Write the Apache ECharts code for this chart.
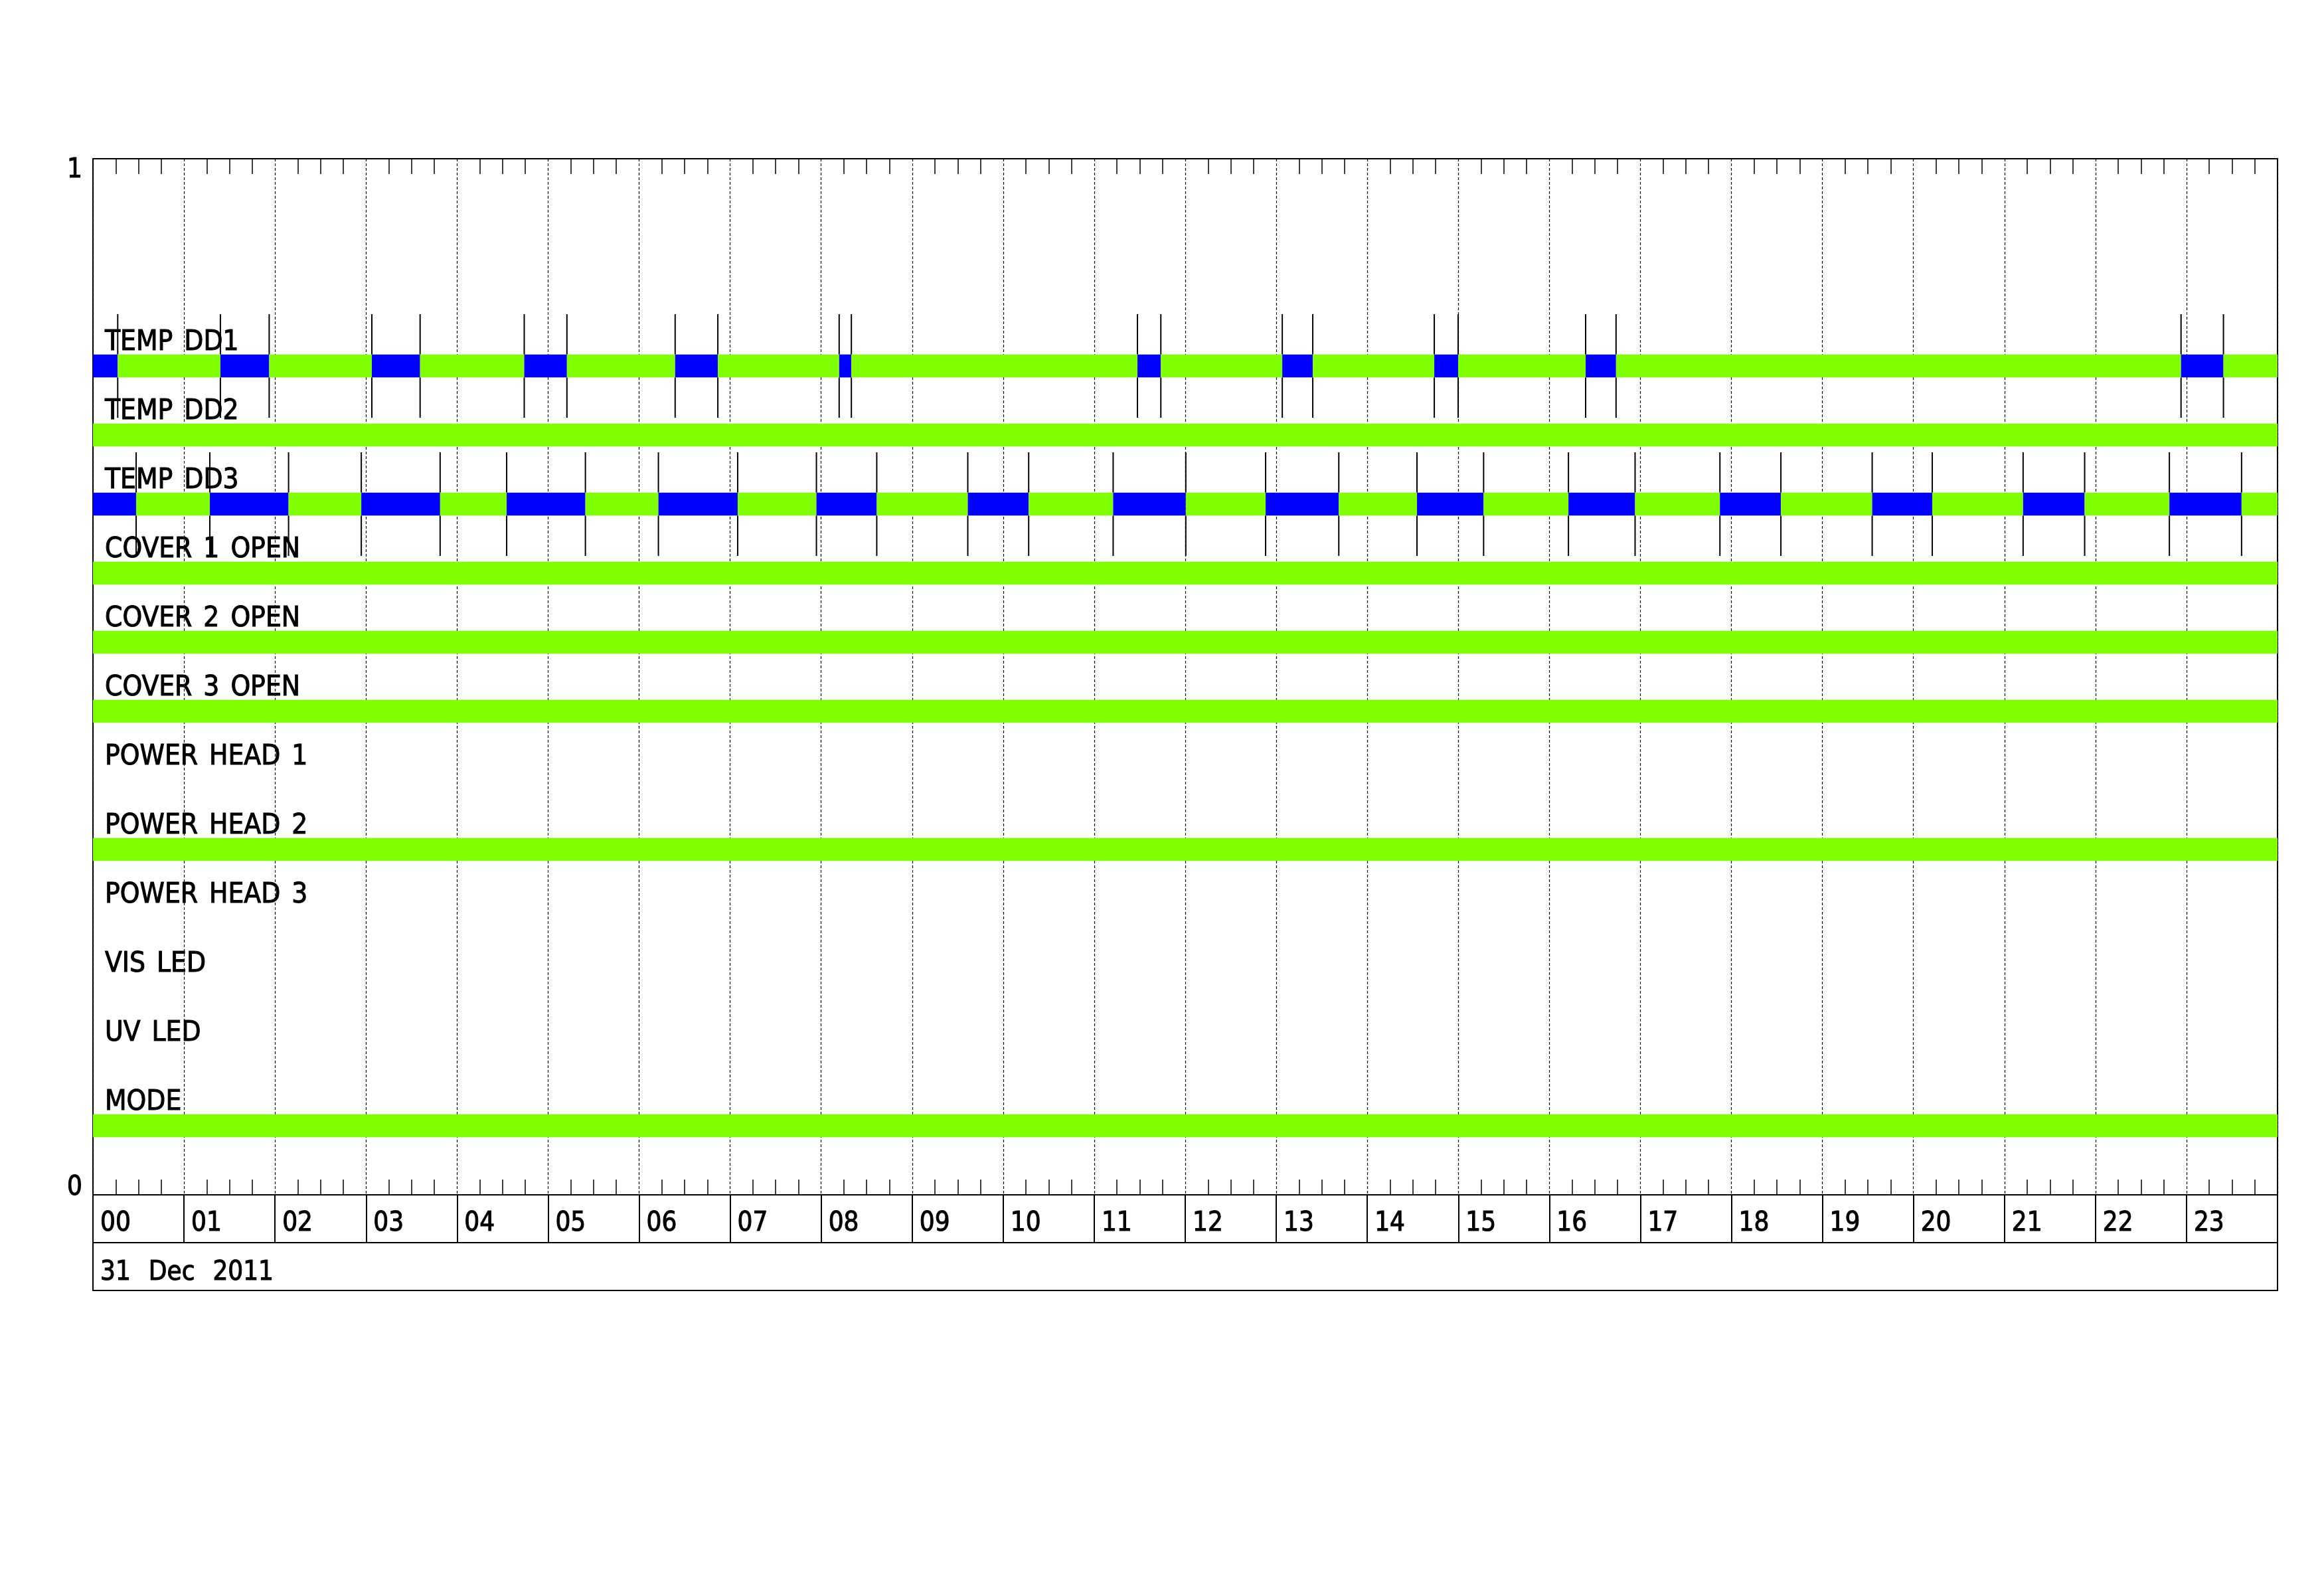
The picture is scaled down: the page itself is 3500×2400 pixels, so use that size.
<!DOCTYPE html>
<html>
<head>
<meta charset="utf-8">
<script src="https://cdn.jsdelivr.net/npm/echarts@6/dist/echarts.min.js"></script>
<style>
html,body{margin:0;padding:0;background:#ffffff;}
#chart{width:3500px;height:2400px;}
</style>
</head>
<body>
<div id="chart"></div>
<script>
// ---------------- data ----------------
const rowNames = ['TEMP DD1', 'TEMP DD2', 'TEMP DD3', 'COVER 1 OPEN', 'COVER 2 OPEN', 'COVER 3 OPEN',
  'POWER HEAD 1', 'POWER HEAD 2', 'POWER HEAD 3', 'VIS LED', 'UV LED', 'MODE'];
const hourLabels = ['00','01','02','03','04','05','06','07','08','09','10','11',
  '12','13','14','15','16','17','18','19','20','21','22','23'];
const yTickLabels = ['0', '1'];
const dateLabel = '31 Dec 2011';

// segments: [start hour, end hour, state]  (G = green, B = blue)
const tempDD1 = [
  [0.000, 0.272, 'B'], [0.272, 1.400, 'G'], [1.400, 1.936, 'B'], [1.936, 3.064, 'G'],
  [3.064, 3.594, 'B'], [3.594, 4.738, 'G'], [4.738, 5.207, 'B'], [5.207, 6.396, 'G'],
  [6.396, 6.865, 'B'], [6.865, 8.198, 'G'], [8.198, 8.332, 'B'], [8.332, 11.475, 'G'],
  [11.475, 11.732, 'B'], [11.732, 13.066, 'G'], [13.066, 13.401, 'B'], [13.401, 14.736, 'G'],
  [14.736, 14.998, 'B'], [14.998, 16.399, 'G'], [16.399, 16.733, 'B'], [16.733, 22.940, 'G'],
  [22.940, 23.406, 'B'], [23.406, 24.000, 'G']
];
const tempDD2 = [[0, 24, 'G']];
const tempDD3 = [
  [0.000, 0.474, 'B'], [0.474, 1.284, 'G'], [1.284, 2.149, 'B'], [2.149, 2.948, 'G'],
  [2.948, 3.814, 'B'], [3.814, 4.545, 'G'], [4.545, 5.410, 'B'], [5.410, 6.212, 'G'],
  [6.212, 7.083, 'B'], [7.083, 7.948, 'G'], [7.948, 8.611, 'B'], [8.611, 9.611, 'G'],
  [9.611, 10.280, 'B'], [10.280, 11.208, 'G'], [11.208, 12.006, 'B'], [12.006, 12.883, 'G'],
  [12.883, 13.687, 'B'], [13.687, 14.546, 'G'], [14.546, 15.278, 'B'], [15.278, 16.210, 'G'],
  [16.210, 16.942, 'B'], [16.942, 17.874, 'G'], [17.874, 18.544, 'B'], [18.544, 19.547, 'G'],
  [19.547, 20.207, 'B'], [20.207, 21.205, 'G'], [21.205, 21.881, 'B'], [21.881, 22.812, 'G'],
  [22.812, 23.605, 'B'], [23.605, 24.000, 'G']
];
const cover1Open = [[0, 24, 'G']];
const cover2Open = [[0, 24, 'G']];
const cover3Open = [[0, 24, 'G']];
const powerHead1 = [];
const powerHead2 = [[0, 24, 'G']];
const powerHead3 = [];
const visLed = [];
const uvLed = [];
const modeRow = [[0, 24, 'G']];

const rowSegments = [tempDD1, tempDD2, tempDD3, cover1Open, cover2Open, cover3Open,
  powerHead1, powerHead2, powerHead3, visLed, uvLed, modeRow];

// ---------------- build ----------------
const stateCodes = ['G', 'B'];
const stateColors = ['#7fff00', '#0000ff'];
const rowSlots = 15;
function rowLevel(i) { return (rowNames.length - i) / rowSlots; }
const BAR_H = 1 / 45;      // bar thickness in axis units
const LINE_HALF = 0.05;    // half length of transition markers in axis units

const barData = [];
const lineData = [];
rowSegments.forEach(function (segs, i) {
  if (segs.length === 0) {
    lineData.push([0, i]);
  }
  segs.forEach(function (s) {
    barData.push([s[0], s[1], i, stateCodes.indexOf(s[2])]);
    lineData.push([s[0], i]);
  });
});
const labelData = rowNames.map(function (n, i) { return [0, i]; });

const FONT = '"DejaVu Sans Condensed", "DejaVu Sans", sans-serif';
function spaced(s) { return s.split(' ').join('{sp| }'); }

function renderBar(params, api) {
  const y = rowLevel(api.value(2));
  const p0 = api.coord([api.value(0), y]);
  const p1 = api.coord([api.value(1), y]);
  const h = api.size([0, BAR_H])[1];
  return {
    type: 'rect',
    shape: { x: p0[0], y: p0[1] - h / 2, width: p1[0] - p0[0], height: h },
    style: { fill: stateColors[api.value(3)] }
  };
}
function renderLine(params, api) {
  const y = rowLevel(api.value(1));
  const p = api.coord([api.value(0), y]);
  const hl = api.size([0, LINE_HALF])[1];
  const hb = api.size([0, BAR_H])[1] / 2;
  const st = { stroke: '#000', lineWidth: 2 };
  return {
    type: 'group',
    children: [
      { type: 'line', shape: { x1: p[0], y1: p[1] - hl, x2: p[0], y2: p[1] - hb }, style: st },
      { type: 'line', shape: { x1: p[0], y1: p[1] + hb, x2: p[0], y2: p[1] + hl }, style: st }
    ]
  };
}
function renderLabel(params, api) {
  const i = api.value(1);
  const p = api.coord([api.value(0), rowLevel(i)]);
  return {
    type: 'text',
    x: p[0] + 18,
    y: p[1] - 35,
    style: {
      text: spaced(rowNames[i]), fill: '#000', fontSize: 42, fontFamily: FONT,
      stroke: '#000', lineWidth: 1,
      align: 'left', verticalAlign: 'middle',
      rich: { sp: { width: 17, fontSize: 42, fontFamily: FONT } }
    }
  };
}

const chart = echarts.init(document.getElementById('chart'), null, { renderer: 'canvas' });

const minorTick = { show: true, splitNumber: 4, length: 23, lineStyle: { color: '#000', width: 1.5 } };

const option = {
  backgroundColor: '#ffffff',
  animation: false,
  grid: [
    { left: 140, right: 70, top: 239, height: 1560, show: true, borderColor: '#000', borderWidth: 2,
      backgroundColor: 'transparent', containLabel: false, outerBoundsMode: 'none' },
    { left: 140, right: 70, top: 1799, height: 72, show: true, borderColor: '#000', borderWidth: 2,
      backgroundColor: 'transparent', containLabel: false, outerBoundsMode: 'none' },
    { left: 140, right: 70, top: 1871, height: 72, show: true, borderColor: '#000', borderWidth: 2,
      backgroundColor: 'transparent', containLabel: false, outerBoundsMode: 'none' }
  ],
  xAxis: [
    { type: 'value', gridIndex: 0, position: 'bottom', min: 0, max: 24, interval: 1,
      axisLine: { show: true, lineStyle: { color: '#000', width: 2 } },
      axisTick: { show: false, inside: true },
      minorTick: minorTick,
      splitLine: { show: true, lineStyle: { color: '#000', width: 1.2, type: [4, 3] } },
      axisLabel: { show: false } },
    { type: 'value', gridIndex: 0, position: 'top', min: 0, max: 24, interval: 1,
      axisLine: { show: true, lineStyle: { color: '#000', width: 2 } },
      axisTick: { show: false, inside: true },
      minorTick: minorTick,
      splitLine: { show: false },
      axisLabel: { show: false } },
    { type: 'value', gridIndex: 1, position: 'top', min: 0, max: 24, interval: 1,
      axisLine: { show: false }, axisTick: { show: false },
      splitLine: { show: true, lineStyle: { color: '#000', width: 2 } },
      axisLabel: { show: true, inside: true, margin: 24, align: 'left', padding: [0, 0, 0, 11],
        color: '#000', fontSize: 40, fontFamily: FONT, textBorderColor: '#000', textBorderWidth: 1,
        formatter: function (v) { return hourLabels[v] !== undefined ? hourLabels[v] : ''; } } },
    { type: 'value', gridIndex: 2, position: 'top', min: 0, max: 24, interval: 24,
      axisLine: { show: false }, axisTick: { show: false }, splitLine: { show: false },
      axisLabel: { show: true, inside: true, margin: 26, align: 'left', padding: [0, 0, 0, 11],
        color: '#000', fontSize: 40, fontFamily: FONT, textBorderColor: '#000', textBorderWidth: 1,
        rich: { sp: { width: 27, fontSize: 40, fontFamily: FONT } },
        formatter: function (v) { return v === 0 ? spaced(dateLabel) : ''; } } }
  ],
  yAxis: [
    { type: 'value', gridIndex: 0, min: 0, max: 1, interval: 1,
      axisLine: { show: false }, axisTick: { show: false }, splitLine: { show: false },
      axisLabel: { show: true, margin: 16, color: '#000', fontSize: 40, fontFamily: FONT,
        formatter: function (v) { return v === 1 ? '{hi|' + yTickLabels[1] + '}' : '{lo|' + yTickLabels[0] + '}'; },
        rich: {
          hi: { fontSize: 40, fontFamily: FONT, color: '#000', textBorderColor: '#000', textBorderWidth: 1, padding: [36, 0, 0, 0] },
          lo: { fontSize: 40, fontFamily: FONT, color: '#000', textBorderColor: '#000', textBorderWidth: 1, padding: [0, 0, 20, 0] }
        } } },
    { type: 'value', gridIndex: 1, min: 0, max: 1, show: false },
    { type: 'value', gridIndex: 2, min: 0, max: 1, show: false }
  ],
  series: [
    { type: 'custom', name: 'transitions', xAxisIndex: 0, yAxisIndex: 0, clip: false, z: 2,
      renderItem: renderLine, data: lineData, encode: { x: 0, y: 1 }, silent: true },
    { type: 'custom', name: 'states', xAxisIndex: 0, yAxisIndex: 0, clip: false, z: 3,
      renderItem: renderBar, data: barData, encode: { x: [0, 1], y: 2 }, silent: true },
    { type: 'custom', name: 'labels', xAxisIndex: 0, yAxisIndex: 0, clip: false, z: 4,
      renderItem: renderLabel, data: labelData, encode: { x: 0, y: 1 }, silent: true }
  ]
};
chart.setOption(option);
</script>
</body>
</html>
